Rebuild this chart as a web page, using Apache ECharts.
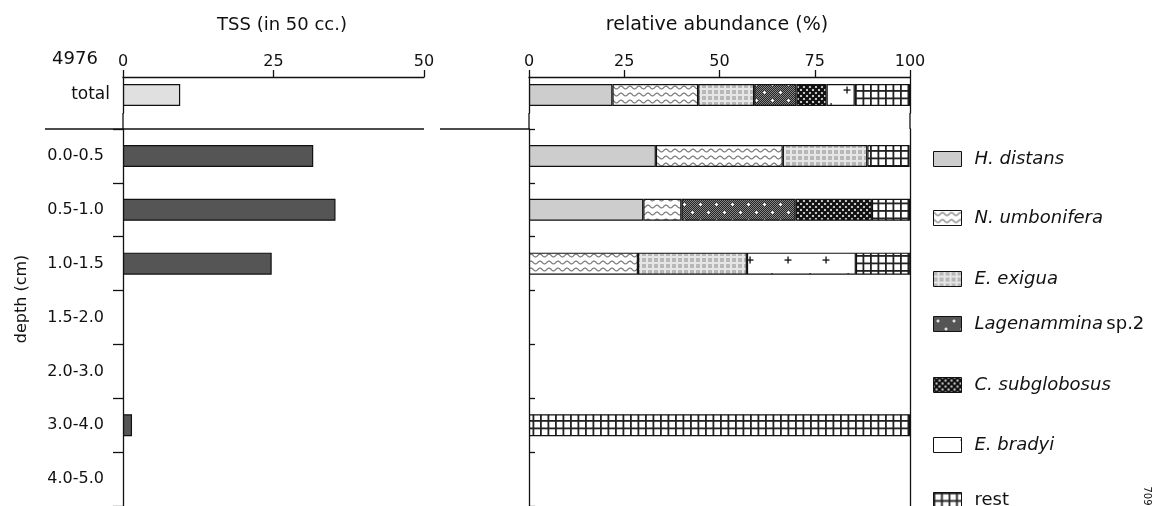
<!DOCTYPE html>
<html>
<head>
<meta charset="utf-8">
<script src="https://cdn.jsdelivr.net/npm/echarts@6/dist/echarts.min.js"></script>
<style>
  html, body { margin: 0; padding: 0; background: #fff; }
  #chart { width: 1155px; height: 506px; }
</style>
</head>
<body>
<div id="chart"></div>
<script>
// ---- data ----
const stationLabel = '4976';
const totalLabel = ['total'];
const depthLabels = ['0.0-0.5', '0.5-1.0', '1.0-1.5', '1.5-2.0', '2.0-3.0', '3.0-4.0', '4.0-5.0'];

// TSS per 50 cc
const tssTotal = [9.5];
const tssDepth = [31.6, 35.3, 24.7, null, null, 1.5, null];
const tssMax = 50;
const tssStep = 25;

// relative abundance (%)
const abundanceMax = 100;
const abundanceStep = 25;
const species = ['H. distans', 'N. umbonifera', 'E. exigua', 'Lagenammina sp.2', 'C. subglobosus', 'E. bradyi', 'rest'];
const totalAbundance = [21.9, 22.5, 14.7, 11.1, 7.9, 7.4, 14.5];
const hDistans     = [33.3, 30.0, null, null, null, null, null];
const nUmbonifera  = [33.3, 10.0, 28.6, null, null, null, null];
const eExigua      = [22.2, null, 28.6, null, null, null, null];
const lagenammina  = [null, 30.0, null, null, null, null, null];
const cSubglobosus = [null, 20.0, null, null, null, null, null];
const eBradyi      = [null, null, 28.6, null, null, null, null];
const rest         = [11.1, 10.0, 14.3, null, null, 100, null];
const depthAbundance = [hDistans, nUmbonifera, eExigua, lagenammina, cSubglobosus, eBradyi, rest];

// ---- fill patterns ----
function tile(w, h, draw) {
  const c = document.createElement('canvas');
  c.width = w; c.height = h;
  draw(c.getContext('2d'), w, h);
  return c;
}
function pat(canvas, x, y) {
  return { image: canvas, repeat: 'repeat', x: x || 0, y: y || 0 };
}
const waveTile = tile(9, 7, (g, w, h) => {
  g.fillStyle = '#fff'; g.fillRect(0, 0, w, h);
  g.strokeStyle = '#7a7a7a'; g.lineWidth = 1.2;
  g.beginPath();
  for (let i = 0; i <= 18; i++) {
    const x = i / 2, y = 3.5 - 1.4 * Math.cos(2 * Math.PI * x / 9);
    i ? g.lineTo(x, y) : g.moveTo(x, y);
  }
  g.stroke();
});
const gridLightTile = tile(6, 6, (g, w, h) => {
  g.fillStyle = '#e6e6e6'; g.fillRect(0, 0, w, h);
  g.fillStyle = '#b8b8b8'; g.fillRect(0, 0, 4, 4);
});
const stippleTile = tile(16, 16, (g, w, h) => {
  for (let y = 0; y < h; y++) for (let x = 0; x < w; x++) {
    g.fillStyle = (x + y) % 2 ? '#262626' : '#858585';
    g.fillRect(x, y, 1, 1);
  }
  g.fillStyle = '#fff';
  [[4, 4], [12, 12]].forEach(([cx, cy]) => {
    g.fillRect(cx - 1, cy, 3, 1);
    g.fillRect(cx, cy - 1, 1, 3);
  });
});
const diamondTile = tile(6, 6, (g, w, h) => {
  g.fillStyle = '#fff'; g.fillRect(0, 0, w, h);
  g.strokeStyle = '#111'; g.lineWidth = 2.4;
  g.beginPath();
  g.moveTo(0, 0); g.lineTo(w, h);
  g.moveTo(w, 0); g.lineTo(0, h);
  g.stroke();
});
const crossTile = tile(38, 55, (g, w, h) => {
  g.fillStyle = '#fff'; g.fillRect(0, 0, w, h);
  g.fillStyle = '#111';
  g.fillRect(1.5, 5.4, 7, 1.3);
  g.fillRect(4.4, 2.5, 1.3, 7);
  g.fillRect(26.5, 19, 1.2, 3);
});
const hatchTile = tile(15, 15, (g, w, h) => {
  g.fillStyle = '#fff'; g.fillRect(0, 0, w, h);
  g.fillStyle = '#222';
  g.fillRect(0, 0, 1.8, h); g.fillRect(7.5, 0, 1.8, h);
  g.fillRect(0, 0, w, 1.8); g.fillRect(0, 7.5, w, 1.8);
});

function speciesFill(i, gridKey) {
  switch (i) {
    case 0: return '#cdcdcd';
    case 1: return pat(waveTile);
    case 2: return pat(gridLightTile);
    case 3: return pat(stippleTile);
    case 4: return pat(diamondTile);
    case 5: return gridKey === 'total' ? pat(crossTile, 842, 84) : pat(crossTile, 745, 254);
    default: return pat(hatchTile);
  }
}

// ---- chart ----
const ink = '#111';
const font = 'DejaVu Sans';
const lineW = 1.3;

const L = { left: 123, width: 301 };
const R = { left: 529, width: 381 };
const topY = 77, totalH = 36, depthTop = 129, depthH = 382;

function topValueAxis(gridIndex, max, step) {
  return {
    type: 'value', gridIndex, position: 'top', min: 0, max, interval: step,
    axisLine: { show: true, lineStyle: { color: ink, width: lineW } },
    axisTick: { show: true, length: 7, lineStyle: { color: ink, width: lineW } },
    axisLabel: { color: ink, fontFamily: font, fontSize: 16, margin: 7 },
    splitLine: { show: false }
  };
}
function hiddenValueAxis(gridIndex, max) {
  return { type: 'value', gridIndex, min: 0, max, show: false, splitLine: { show: false } };
}

const barBorder = { borderColor: ink, borderWidth: 1.2 };
const series = [
  {
    type: 'bar', name: 'TSS total', xAxisIndex: 0, yAxisIndex: 0, data: tssTotal, barWidth: 22,
    itemStyle: Object.assign({ color: '#e0e0e0' }, barBorder)
  },
  {
    type: 'bar', name: 'TSS', xAxisIndex: 1, yAxisIndex: 1, data: tssDepth, barWidth: 22,
    itemStyle: Object.assign({ color: '#555555' }, barBorder)
  }
];
species.forEach((name, i) => {
  series.push({
    type: 'bar', name, stack: 'total', xAxisIndex: 2, yAxisIndex: 2, barWidth: 22,
    data: [totalAbundance[i]],
    itemStyle: Object.assign({ color: speciesFill(i, 'total') }, barBorder)
  });
});
species.forEach((name, i) => {
  series.push({
    type: 'bar', name, stack: 'depth', xAxisIndex: 3, yAxisIndex: 3, barWidth: 22,
    data: depthAbundance[i],
    itemStyle: Object.assign({ color: speciesFill(i, 'depth') }, barBorder)
  });
});

// legend entries, one block per species
const legendCenters = [156, 215, 276, 321, 382, 442, 497];
function legendName(name) {
  if (name === 'rest') return '{n|rest}';
  if (name.endsWith(' sp.2')) return '{i|' + name.replace(' sp.2', '') + '} {n|sp.2}';
  return '{i|' + name + '}';
}
const legends = species.map((name, i) => {
  // the E. bradyi swatch shows a single bottom tick of its pattern (swatch-local origin)
  const entry = i === 5
    ? { name, itemStyle: { color: pat(crossTile, -12.5, -3.5) } }
    : name;
  return {
    data: [entry],
    left: 928,
    top: legendCenters[i] - 11,
    orient: 'vertical',
    icon: 'rect',
    itemWidth: 28,
    itemHeight: 15,
    selectedMode: false,
    itemStyle: { borderColor: ink, borderWidth: 1 },
    formatter: legendName,
    textStyle: {
      padding: [0, 0, 0, 8],
      rich: {
        i: { fontFamily: font, fontSize: 18, fontStyle: 'italic', color: ink, lineHeight: 22 },
        n: { fontFamily: font, fontSize: 18, color: ink, lineHeight: 22 }
      }
    }
  };
});

const textStyle = (size) => ({ fill: ink, font: size + 'px "' + font + '"', textAlign: 'center', textVerticalAlign: 'middle' });
const line = (x1, y1, x2, y2) => ({
  type: 'line', shape: { x1, y1, x2, y2 }, style: { stroke: ink, lineWidth: lineW }, silent: true
});

const option = {
  animation: false,
  backgroundColor: '#fff',
  grid: [
    { left: L.left, width: L.width, top: topY, height: totalH },
    { left: L.left, width: L.width, top: depthTop, height: depthH },
    { left: R.left, width: R.width, top: topY, height: totalH },
    { left: R.left, width: R.width, top: depthTop, height: depthH }
  ],
  xAxis: [
    topValueAxis(0, tssMax, tssStep),
    hiddenValueAxis(1, tssMax),
    topValueAxis(2, abundanceMax, abundanceStep),
    hiddenValueAxis(3, abundanceMax)
  ],
  yAxis: [
    {
      type: 'category', gridIndex: 0, data: totalLabel,
      axisLine: { show: true, lineStyle: { color: ink, width: lineW } },
      axisTick: { show: false },
      axisLabel: { color: ink, fontFamily: font, fontSize: 17, margin: 13 }
    },
    {
      type: 'category', gridIndex: 1, data: depthLabels, inverse: true,
      axisLine: { show: true, lineStyle: { color: ink, width: lineW } },
      axisTick: { show: true, length: 10, lineStyle: { color: ink, width: lineW } },
      axisLabel: { color: ink, fontFamily: font, fontSize: 16, margin: 19 }
    },
    {
      type: 'category', gridIndex: 2, data: totalLabel,
      axisLine: { show: true, lineStyle: { color: ink, width: lineW } },
      axisTick: { show: false }, axisLabel: { show: false }
    },
    {
      type: 'category', gridIndex: 3, data: depthLabels, inverse: true,
      axisLine: { show: true, lineStyle: { color: ink, width: lineW } },
      axisTick: { show: true, inside: true, length: 6, lineStyle: { color: ink, width: lineW } },
      axisLabel: { show: false }
    },
    {
      type: 'category', gridIndex: 2, data: totalLabel, position: 'right',
      axisLine: { show: true, lineStyle: { color: ink, width: lineW } },
      axisTick: { show: false }, axisLabel: { show: false }
    },
    {
      type: 'category', gridIndex: 3, data: depthLabels, position: 'right', inverse: true,
      axisLine: { show: true, lineStyle: { color: ink, width: lineW } },
      axisTick: { show: false }, axisLabel: { show: false }
    }
  ],
  legend: legends,
  series,
  graphic: [
    // axis lines across the gap between the total row and the depth rows
    line(L.left, topY + totalH, L.left, depthTop),
    line(R.left, topY + totalH, R.left, depthTop),
    line(R.left + R.width, topY + totalH, R.left + R.width, depthTop),
    // separator under the total row
    line(45, depthTop, L.left + L.width, depthTop),
    line(440, depthTop, R.left, depthTop),
    { type: 'text', x: 75, y: 59, style: Object.assign({ text: stationLabel }, textStyle(18)) },
    { type: 'text', x: 282, y: 25, style: Object.assign({ text: 'TSS (in 50 cc.)' }, textStyle(18)) },
    { type: 'text', x: 717, y: 25, style: Object.assign({ text: 'relative abundance (%)' }, textStyle(19)) },
    { type: 'text', x: 22, y: 299, rotation: Math.PI / 2, style: Object.assign({ text: 'depth (cm)' }, textStyle(16)) },
    { type: 'text', x: 1147, y: 496, rotation: -Math.PI / 2, style: Object.assign({ text: '709' }, textStyle(10)) }
  ]
};

const chart = echarts.init(document.getElementById('chart'), null, { renderer: 'canvas' });
chart.setOption(option);
</script>
</body>
</html>
